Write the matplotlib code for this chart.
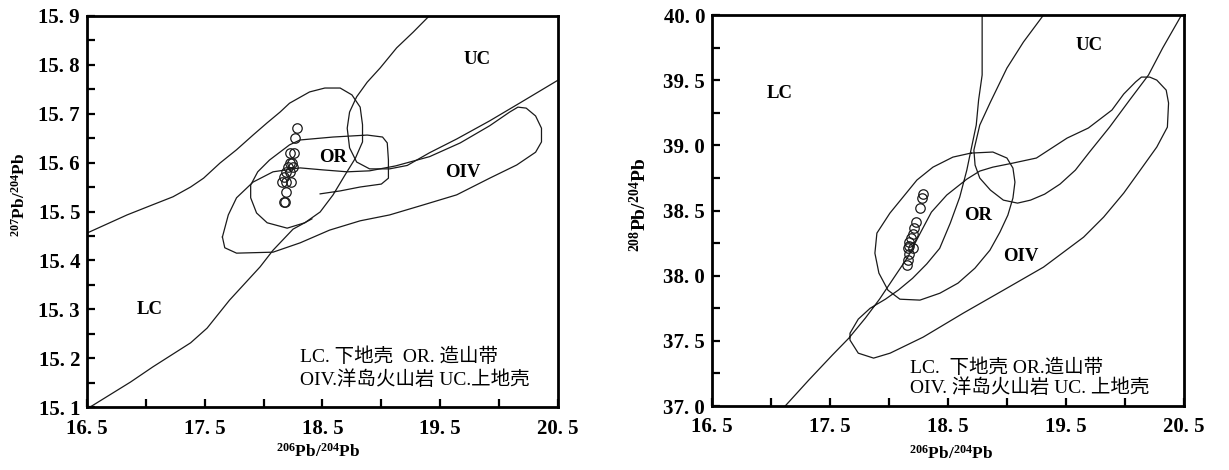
import matplotlib
matplotlib.use('Agg')
import matplotlib.pyplot as plt
from matplotlib.ticker import FixedLocator, FuncFormatter

# 字体配置
plt.rcParams['font.family'] = ['Liberation Serif', 'Noto Sans CJK SC']
plt.rcParams['mathtext.fontset'] = 'custom'
plt.rcParams['mathtext.rm'] = 'Liberation Serif:bold'
plt.rcParams['mathtext.bf'] = 'Liberation Serif:bold'
plt.rcParams['mathtext.it'] = 'Liberation Serif:bold:italic'
plt.rcParams['axes.unicode_minus'] = False

# ---------------- 206Pb/204Pb - 207Pb/204Pb ----------------
# 样品点
s207_x = [18.28, 18.27, 18.22, 18.26, 18.22, 18.24, 18.21, 18.25, 18.19,
          18.22, 18.17, 18.23, 18.19, 18.16, 18.19, 18.17, 18.18]
s207_y = [15.67, 15.65, 15.62, 15.62, 15.60, 15.60, 15.59, 15.59, 15.58,
          15.58, 15.57, 15.56, 15.56, 15.56, 15.54, 15.52, 15.52]

# LC上界 + 造山带(OR)范围
or207_x = [16.50, 16.84, 17.05, 17.23, 17.38, 17.49, 17.63, 17.77, 17.91, 18.03,
           18.14, 18.22, 18.39, 18.52, 18.65, 18.75, 18.82, 18.84, 18.84, 18.78,
           18.69, 18.59, 18.48, 18.35, 18.20, 18.03, 17.94, 17.89, 17.89, 17.95,
           18.05, 18.22, 18.31, 18.59, 18.88, 19.01, 19.05, 19.06, 19.06, 19.00,
           18.82, 18.65, 18.48]
or207_y = [15.456, 15.493, 15.513, 15.530, 15.550, 15.568, 15.599, 15.626, 15.656, 15.681,
           15.703, 15.721, 15.744, 15.752, 15.752, 15.738, 15.713, 15.677, 15.642, 15.609,
           15.574, 15.534, 15.499, 15.477, 15.466, 15.477, 15.497, 15.528, 15.554, 15.581,
           15.605, 15.636, 15.646, 15.652, 15.656, 15.652, 15.640, 15.605, 15.568, 15.556,
           15.550, 15.542, 15.536]

# LC下界
lc207_x = [16.52, 16.87, 17.06, 17.38, 17.52, 17.71, 17.97, 18.08, 18.25, 18.41]
lc207_y = [15.100, 15.152, 15.183, 15.232, 15.262, 15.319, 15.387, 15.421, 15.464, 15.485]

# 上地壳(UC)边界
uc207_x = [19.41, 19.27, 19.13, 18.99, 18.88, 18.79, 18.73, 18.71, 18.73, 18.79,
           18.90, 19.07, 19.22, 19.41, 19.64, 19.92, 20.18, 20.50]
uc207_y = [15.900, 15.866, 15.834, 15.793, 15.764, 15.734, 15.703, 15.670, 15.630, 15.601,
           15.587, 15.587, 15.594, 15.620, 15.648, 15.685, 15.722, 15.768]

# 洋岛火山岩(OIV)范围
oiv207_x = [17.65, 17.70, 17.77, 17.91, 18.08, 18.31, 18.50, 18.71, 18.90, 19.12,
            19.41, 19.67, 19.92, 20.09, 20.16, 20.23, 20.31, 20.36, 20.36, 20.31,
            20.15, 19.92, 19.64, 19.35, 19.07, 18.82, 18.56, 18.31, 18.08, 17.77,
            17.67, 17.65]
oiv207_y = [15.448, 15.493, 15.528, 15.560, 15.581, 15.589, 15.585, 15.581, 15.583, 15.593,
            15.612, 15.640, 15.675, 15.703, 15.713, 15.711, 15.695, 15.670, 15.642, 15.621,
            15.595, 15.568, 15.534, 15.513, 15.493, 15.481, 15.462, 15.436, 15.417, 15.415,
            15.426, 15.448]

# ---------------- 206Pb/204Pb - 208Pb/204Pb ----------------
s208_x = [18.29, 18.28, 18.26, 18.23, 18.21, 18.20, 18.19, 18.17, 18.17,
          18.20, 18.16, 18.17, 18.16, 18.15]
s208_y = [38.63, 38.60, 38.52, 38.41, 38.37, 38.32, 38.29, 38.26, 38.23,
          38.21, 38.21, 38.17, 38.12, 38.08]

# LC边界 + 洋岛火山岩(OIV)范围
lc208_x = [17.12, 17.32, 17.52, 17.66, 17.80, 17.92, 18.04, 18.16, 18.27, 18.36,
           18.49, 18.66, 18.77, 18.88, 19.05, 19.25, 19.51, 19.69, 19.89, 19.99,
           20.09, 20.14, 20.21, 20.27, 20.35, 20.37, 20.36, 20.27, 20.13, 19.99,
           19.82, 19.65, 19.31, 18.97, 18.63, 18.29, 18.01, 17.87, 17.74, 17.67,
           17.67, 17.74, 17.84, 17.97, 18.08, 18.20, 18.32, 18.43, 18.52, 18.60,
           18.66, 18.69, 18.74, 18.76, 18.79, 18.79, 18.79]
lc208_y = [37.000, 37.199, 37.391, 37.521, 37.675, 37.820, 37.982, 38.143, 38.335, 38.488,
           38.619, 38.741, 38.803, 38.833, 38.864, 38.903, 39.056, 39.133, 39.271, 39.394,
           39.486, 39.524, 39.524, 39.501, 39.424, 39.325, 39.140, 38.987, 38.810, 38.634,
           38.450, 38.296, 38.066, 37.889, 37.713, 37.529, 37.406, 37.368, 37.406, 37.506,
           37.559, 37.667, 37.750, 37.820, 37.890, 37.980, 38.090, 38.210, 38.404, 38.603,
           38.810, 38.941, 39.156, 39.348, 39.540, 39.747, 40.000]

# 上地壳(UC)边界
uc208_x = [19.31, 19.14, 19.00, 18.86, 18.77, 18.72, 18.73, 18.77, 18.86, 18.97,
           19.09, 19.20, 19.32, 19.45, 19.58, 19.70, 19.87, 20.04, 20.20, 20.32, 20.48]
uc208_y = [40.000, 39.793, 39.593, 39.332, 39.156, 38.964, 38.849, 38.749, 38.657, 38.580,
           38.557, 38.580, 38.626, 38.703, 38.810, 38.949, 39.140, 39.348, 39.540, 39.747, 40.000]

# 造山带(OR)范围
or208_x = [18.695, 18.881, 19.000, 19.051, 19.068, 19.051, 19.008, 18.941, 18.856, 18.729,
           18.585, 18.432, 18.263, 18.093, 17.992, 17.915, 17.881, 17.898, 18.008, 18.119,
           18.237, 18.373, 18.542, 18.695]
or208_y = [38.941, 38.949, 38.903, 38.826, 38.718, 38.596, 38.465, 38.335, 38.196, 38.058,
           37.943, 37.866, 37.813, 37.820, 37.889, 38.020, 38.173, 38.327, 38.480, 38.603,
           38.734, 38.833, 38.910, 38.941]

x_major = [16.5, 17.5, 18.5, 19.5, 20.5]
x_minor = [17.0, 18.0, 19.0, 20.0]
y207_major = [15.1, 15.2, 15.3, 15.4, 15.5, 15.6, 15.7, 15.8, 15.9]
y208_major = [37.0, 37.5, 38.0, 38.5, 39.0, 39.5, 40.0]

legend_lines_207 = ['LC. 下地壳  OR. 造山带', 'OIV.洋岛火山岩 UC.上地壳']
legend_lines_208 = ['LC.  下地壳 OR.造山带', 'OIV. 洋岛火山岩 UC. 上地壳']

LINE_KW = dict(color='#1a1a1a', linewidth=0.9, solid_joinstyle='round')
CJK = ['Liberation Serif', 'Noto Sans CJK SC']
fmt = FuncFormatter(lambda v, p: f'{v:.1f}'.replace('.', '. '))


def style_axes(ax, ymajor, ystep, ylim):
    ax.set_xlim(16.5, 20.5)
    ax.set_ylim(*ylim)
    ax.xaxis.set_major_locator(FixedLocator(x_major))
    ax.xaxis.set_minor_locator(FixedLocator(x_minor))
    ax.yaxis.set_major_locator(FixedLocator(ymajor))
    ax.yaxis.set_minor_locator(FixedLocator([v + ystep for v in ymajor[:-1]]))
    ax.xaxis.set_major_formatter(fmt)
    ax.yaxis.set_major_formatter(fmt)
    ax.tick_params(which='both', direction='in', length=6, width=1.6,
                   top=False, right=False)
    ax.tick_params(axis='both', labelsize=15)
    ax.tick_params(axis='x', pad=8)
    ax.tick_params(axis='y', pad=5)
    for lab in ax.get_xticklabels() + ax.get_yticklabels():
        lab.set_fontweight('bold')
    for sp in ax.spines.values():
        sp.set_linewidth(2.0)


fig = plt.figure(figsize=(12.29, 4.70), dpi=100)

# 左图：207Pb/204Pb
ax1 = fig.add_axes([0.0708, 0.133, 0.3832, 0.834])
ax1.plot(or207_x, or207_y, **LINE_KW)
ax1.plot(lc207_x, lc207_y, **LINE_KW)
ax1.plot(uc207_x, uc207_y, **LINE_KW)
ax1.plot(oiv207_x, oiv207_y, **LINE_KW)
ax1.plot(s207_x, s207_y, 'o', ms=6.8, mfc='none', mec='#1a1a1a', mew=0.9)
style_axes(ax1, y207_major, 0.05, (15.1, 15.9))
for txt, x, y in [('UC', 19.81, 15.81), ('OR', 18.59, 15.61),
                  ('OIV', 19.69, 15.58), ('LC', 17.03, 15.30)]:
    ax1.text(x, y, txt, fontsize=13.5, fontweight='bold', ha='center', va='center')
ax1.text(0.452, 0.130, legend_lines_207[0], transform=ax1.transAxes,
         fontsize=14, family=CJK, ha='left', va='center')
ax1.text(0.452, 0.070, legend_lines_207[1], transform=ax1.transAxes,
         fontsize=14, family=CJK, ha='left', va='center')
ax1.set_xlabel(r'$^{206}$Pb/$^{204}$Pb', fontsize=12.5, fontweight='bold')
ax1.set_ylabel(r'$^{207}$Pb/$^{204}$Pb', fontsize=12.5, fontweight='bold')
ax1.xaxis.set_label_coords(0.49, -0.09)
ax1.yaxis.set_label_coords(-0.124, 0.542)

# 右图：208Pb/204Pb
ax2 = fig.add_axes([0.5793, 0.136, 0.384, 0.832])
ax2.plot(lc208_x, lc208_y, **LINE_KW)
ax2.plot(uc208_x, uc208_y, **LINE_KW)
ax2.plot(or208_x, or208_y, **LINE_KW)
ax2.plot(s208_x, s208_y, 'o', ms=6.8, mfc='none', mec='#1a1a1a', mew=0.9)
style_axes(ax2, y208_major, 0.25, (37.0, 40.0))
for txt, x, y in [('UC', 19.70, 39.77), ('OR', 18.76, 38.46),
                  ('OIV', 19.12, 38.15), ('LC', 17.07, 39.40)]:
    ax2.text(x, y, txt, fontsize=13.5, fontweight='bold', ha='center', va='center')
ax2.text(0.42, 0.097, legend_lines_208[0], transform=ax2.transAxes,
         fontsize=14, family=CJK, ha='left', va='center')
ax2.text(0.42, 0.046, legend_lines_208[1], transform=ax2.transAxes,
         fontsize=14, family=CJK, ha='left', va='center')
ax2.set_xlabel(r'$^{206}$Pb/$^{204}$Pb', fontsize=12.5, fontweight='bold')
ax2.set_ylabel(r'$^{208}$Pb/$^{204}$Pb', fontsize=14, fontweight='bold')
ax2.xaxis.set_label_coords(0.506, -0.098)
ax2.yaxis.set_label_coords(-0.131, 0.514)

fig.savefig('out.png', dpi=100, facecolor='white')
